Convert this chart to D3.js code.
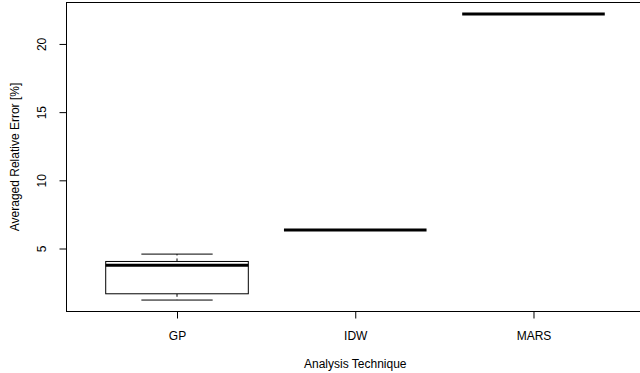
<!DOCTYPE html>
<html><head><meta charset="utf-8">
<script src="https://cdn.jsdelivr.net/npm/d3@7"></script>
<style>body{margin:0;background:#fff}svg{display:block}text{font-family:"Liberation Sans",Arial,Helvetica,sans-serif;fill:#000}</style>
</head><body>
<svg id="c" width="640" height="373"></svg>
<script>
const categories = ["GP", "IDW", "MARS"];
const whiskerLow = [1.22, 6.35, 22.2];
const q1 = [1.68, 6.35, 22.2];
const medians = [3.78, 6.35, 22.2];
const q3 = [4.05, 6.35, 22.2];
const whiskerHigh = [4.59, 6.35, 22.2];
const yTicks = [5, 10, 15, 20];
const xTitle = "Analysis Technique";
const yTitle = "Averaged Relative Error [%]";

const FS = 12;
const svg = d3.select("#c");
const L = 66.5, R = 644, T = 2.5, B = 311.5;
const x = d3.scaleLinear().domain([0.38, 3.62]).range([L, R]);
const dmin = d3.min(whiskerLow), dmax = d3.max(whiskerHigh);
const ext = (dmax - dmin) * 0.04;
const y = d3.scaleLinear().domain([dmin - ext, dmax + ext]).range([B, T]);

// frame
svg.append("rect").attr("x", L).attr("y", T).attr("width", R - L).attr("height", B - T)
  .attr("fill", "none").attr("stroke", "#000").attr("stroke-width", 1);

// y axis
const ya = svg.append("g").attr("transform", `translate(${L},0)`)
  .call(d3.axisLeft(y).tickValues(yTicks).tickSize(7).tickSizeOuter(0).tickPadding(0).tickFormat(d3.format("d")));
ya.select(".domain").remove();
ya.selectAll("text").remove();
ya.selectAll(".tick").append("text")
  .attr("transform", "translate(-25,0) rotate(-90)")
  .attr("text-anchor", "middle").attr("dy", "0.35em")
  .attr("font-size", FS).attr("fill", "#000").text(d => d);

// x axis
const xa = svg.append("g").attr("transform", `translate(0,${B})`)
  .call(d3.axisBottom(x).tickValues([1, 2, 3]).tickSize(7).tickSizeOuter(0).tickPadding(0)
    .tickFormat((d) => categories[d - 1]));
xa.select(".domain").remove();
xa.selectAll("text").attr("font-size", FS).attr("y", 24).attr("dy", "0.35em").attr("fill", "#000")
  .style("font-family", '"Liberation Sans",Arial,Helvetica,sans-serif');

// titles
svg.append("text").attr("x", x(2)).attr("y", 364).attr("text-anchor", "middle")
  .attr("dy", "0.35em").attr("font-size", FS).text(xTitle);
svg.append("text").attr("transform", `translate(15,${(T + B) / 2}) rotate(-90)`)
  .attr("text-anchor", "middle").attr("dy", "0.35em").attr("font-size", FS).text(yTitle);

// boxes
const bw = 0.4, cw = 0.2;
categories.forEach((c, i) => {
  const cx = i + 1;
  const g = svg.append("g");
  if (whiskerHigh[i] > q3[i]) {
    g.append("line").attr("x1", x(cx)).attr("x2", x(cx)).attr("y1", y(q3[i])).attr("y2", y(whiskerHigh[i]))
      .attr("stroke", "#000").attr("stroke-dasharray", "3,3");
  }
  if (whiskerLow[i] < q1[i]) {
    g.append("line").attr("x1", x(cx)).attr("x2", x(cx)).attr("y1", y(q1[i])).attr("y2", y(whiskerLow[i]))
      .attr("stroke", "#000").attr("stroke-dasharray", "3,3");
  }
  g.append("line").attr("x1", x(cx - cw)).attr("x2", x(cx + cw)).attr("y1", y(whiskerHigh[i])).attr("y2", y(whiskerHigh[i])).attr("stroke", "#000");
  g.append("line").attr("x1", x(cx - cw)).attr("x2", x(cx + cw)).attr("y1", y(whiskerLow[i])).attr("y2", y(whiskerLow[i])).attr("stroke", "#000");
  g.append("rect").attr("x", x(cx - bw)).attr("y", y(q3[i])).attr("width", x(cx + bw) - x(cx - bw))
    .attr("height", Math.max(0, y(q1[i]) - y(q3[i]))).attr("fill", "#fff").attr("stroke", "#000");
  g.append("line").attr("x1", x(cx - bw)).attr("x2", x(cx + bw)).attr("y1", y(medians[i])).attr("y2", y(medians[i]))
    .attr("stroke", "#000").attr("stroke-width", 3);
});
</script>
</body></html>
